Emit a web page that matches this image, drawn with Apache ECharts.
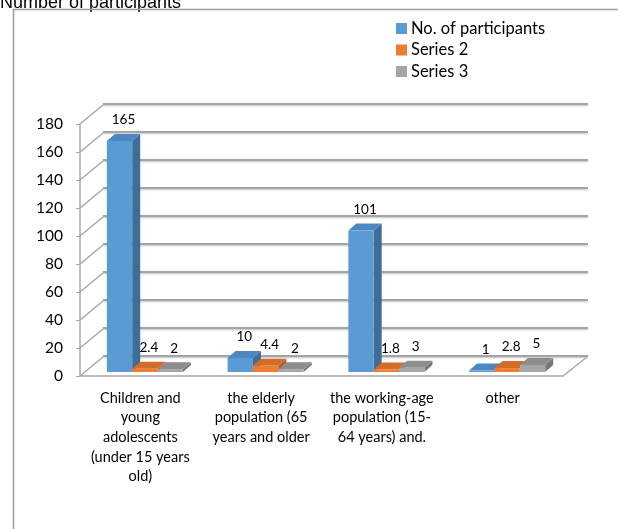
<!DOCTYPE html>
<html>
<head>
<meta charset="utf-8">
<script src="https://cdn.jsdelivr.net/npm/echarts@6/dist/echarts.min.js"></script>
<style>
  html, body { margin: 0; padding: 0; background: #fff; }
  #chart { width: 618px; height: 529px; }
</style>
</head>
<body>
<div id="chart"></div>
<script>
// Categories shown along the floor of the chart
const categories = [
  'Children and\nyoung\nadolescents\n(under 15 years\nold)',
  'the elderly\npopulation (65\nyears and older',
  'the working-age\npopulation (15-\n64 years) and.',
  'other'
];
const seriesNames = ['No. of participants', 'Series 2', 'Series 3'];
const participants = [165, 10, 101, 1];
const series2 = [2.4, 4.4, 1.8, 2.8];
const series3 = [2, 2, 3, 5];
const yTicks = [0, 20, 40, 60, 80, 100, 120, 140, 160, 180];

// Face colours per series: front, side, top
const palette = [
  { front: '#5b9bd5', side: '#3e6d99', top: '#4d86c0' },
  { front: '#ed7d31', side: '#b05a21', top: '#d36c27' },
  { front: '#a5a5a5', side: '#777777', top: '#8d8d8d' }
];

// Projection of the wall depth (front plane -> back wall)
const WALL_DX = 23, WALL_DY = -19;
// Bars sit a little behind the front plane and have their own depth
const BASE_DX = 4.5, BASE_DY = -4;
const BAR_DX = 8, BAR_DY = -7;
const FONT = 'Lato, "Open Sans", sans-serif';

function barRenderer(k) {
  return function (params, api) {
    const cat = api.value(0);
    const val = api.value(1);
    const band = api.size([1, 0])[0];
    const w = band * 0.21;
    const center = api.coord([cat, 0])[0];
    const x0 = center - 1.5 * w + k * w + BASE_DX;
    const x1 = x0 + w;
    const yb = api.coord([cat, 0])[1] + BASE_DY;
    const yt = api.coord([cat, val])[1] + BASE_DY;
    const c = palette[k];
    return {
      type: 'group',
      children: [
        { type: 'polygon', shape: { points: [[x1, yt], [x1 + BAR_DX, yt + BAR_DY], [x1 + BAR_DX, yb + BAR_DY], [x1, yb]] },
          style: { fill: c.side } },
        { type: 'polygon', shape: { points: [[x0, yt], [x1, yt], [x1 + BAR_DX, yt + BAR_DY], [x0 + BAR_DX, yt + BAR_DY]] },
          style: { fill: c.top } },
        { type: 'rect', shape: { x: x0, y: yt, width: w, height: yb - yt },
          style: { fill: c.front } },
        { type: 'text', x: (x0 + x1) / 2 + BAR_DX / 2, y: yt - 21,
          style: { text: String(val), fill: '#000', font: '13.5px ' + FONT, align: 'center', verticalAlign: 'middle' } }
      ]
    };
  };
}

const wallStyle = { stroke: '#a8a8a8', lineWidth: 1.5 };

const chart = echarts.init(document.getElementById('chart'));
chart.setOption({
  animation: false,
  backgroundColor: '#fff',
  title: {
    text: 'Number of participants',
    left: 0, top: -6, padding: 0,
    textStyle: { fontFamily: '"Liberation Sans", Arial, sans-serif', fontSize: 18, fontWeight: 'normal', color: '#000' }
  },
  legend: {
    data: seriesNames,
    orient: 'vertical',
    left: 396, top: 20, padding: 0,
    icon: 'rect', itemWidth: 11, itemHeight: 11, itemGap: 4.5,
    textStyle: { fontFamily: FONT, fontSize: 16.5, lineHeight: 16.5, color: '#000', padding: [0, 0, 0, -1] }
  },
  graphic: [
    { type: 'polyline', silent: true, z: 100,
      shape: { points: [[13.5, 529], [13.5, 9.5], [618, 9.5]] },
      style: { stroke: '#9c9c9c', lineWidth: 1.5, fill: null } }
  ],
  grid: [
    { left: 80, right: 55, top: 124, bottom: 153 },
    { left: 103, right: 30, top: 104, bottom: 173 }
  ],
  xAxis: [
    { type: 'category', gridIndex: 0, data: categories,
      axisLine: { lineStyle: { color: '#a8a8a8', width: 1.5 } },
      axisTick: { length: 5, lineStyle: { color: '#a8a8a8' } },
      axisLabel: { interval: 0, margin: 12, color: '#000', fontFamily: FONT, fontSize: 14.5, lineHeight: 19.7 } },
    { type: 'category', gridIndex: 1, data: categories, show: false }
  ],
  yAxis: [
    { type: 'value', gridIndex: 0, min: 0, max: 180, interval: 20,
      axisLine: { show: true, lineStyle: { color: '#a8a8a8', width: 1.5 } },
      axisTick: { show: true, length: 4, lineStyle: { color: '#a8a8a8' } },
      axisLabel: { margin: 17, color: '#000', fontFamily: FONT, fontSize: 15.5 },
      splitLine: { show: false } },
    { type: 'value', gridIndex: 1, min: 0, max: 180, interval: 20,
      axisLine: { show: false }, axisTick: { show: false }, axisLabel: { show: false },
      splitLine: { show: true, lineStyle: { color: '#a4a4a4', width: 2,
        shadowColor: 'rgba(0,0,0,0.25)', shadowBlur: 2, shadowOffsetY: 1 } } }
  ],
  series: [
    {
      // side wall and floor edges
      type: 'custom', name: 'walls', xAxisIndex: 0, yAxisIndex: 0, z: 1, silent: true,
      data: yTicks.map(v => [0, v]),
      encode: { x: 0, y: 1 },
      renderItem: function (params, api) {
        const cs = params.coordSys;
        const y = api.coord([0, api.value(1)])[1];
        const children = [
          { type: 'line', shape: { x1: cs.x, y1: y, x2: cs.x + WALL_DX, y2: y + WALL_DY }, style: wallStyle }
        ];
        if (params.dataIndex === 0) {
          const xr = cs.x + cs.width;
          children.push({ type: 'line', shape: { x1: xr, y1: y, x2: xr + WALL_DX + 1, y2: y + WALL_DY }, style: wallStyle });
        }
        return { type: 'group', children: children };
      }
    },
    { type: 'custom', name: seriesNames[0], xAxisIndex: 0, yAxisIndex: 0, z: 3,
      itemStyle: { color: palette[0].front },
      data: participants.map((v, i) => [i, v]), encode: { x: 0, y: 1 }, renderItem: barRenderer(0) },
    { type: 'custom', name: seriesNames[1], xAxisIndex: 0, yAxisIndex: 0, z: 4,
      itemStyle: { color: palette[1].front },
      data: series2.map((v, i) => [i, v]), encode: { x: 0, y: 1 }, renderItem: barRenderer(1) },
    { type: 'custom', name: seriesNames[2], xAxisIndex: 0, yAxisIndex: 0, z: 5,
      itemStyle: { color: palette[2].front },
      data: series3.map((v, i) => [i, v]), encode: { x: 0, y: 1 }, renderItem: barRenderer(2) }
  ]
});
</script>
</body>
</html>
